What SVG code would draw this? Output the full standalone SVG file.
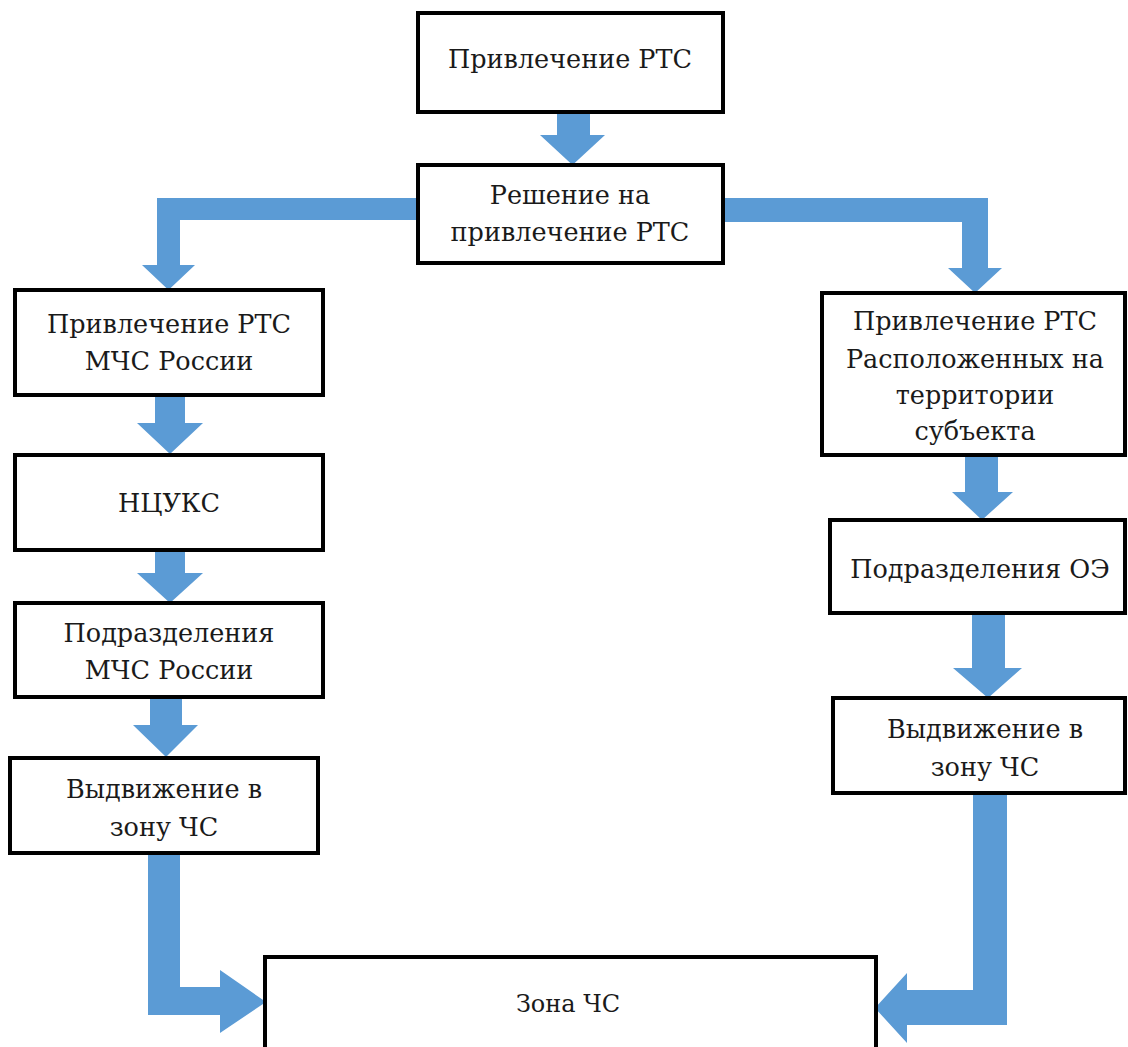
<svg xmlns="http://www.w3.org/2000/svg" width="1128" height="1047" viewBox="0 0 1128 1047">
<style>
.box{fill:#fff;stroke:#000;stroke-width:4}
text{font-family:'DejaVu Serif','Liberation Serif',serif;font-size:25.5px;fill:#1a1a1a;text-anchor:middle}
.z{font-size:24px}
.arr{fill:#5B9BD5}
</style>
<rect width="1128" height="1047" fill="#fff"/>
<g id="connectors">
<polygon class="arr" points="557,112 590,112 590,135 605,135 572.5,165 540,135 557,135"/>
<polygon class="arr" points="418,198 157,198 157,265 142,265 168.5,290 195,265 180,265 180,220 418,220"/>
<polygon class="arr" points="723,198 988,198 988,268 1002,268 975,293 948,268 962,268 962,222 723,222"/>
<polygon class="arr" points="155,395 185,395 185,423 203,423 170,454 137,423 155,423"/>
<polygon class="arr" points="155,550 185,550 185,573 203,573 170,603 137,573 155,573"/>
<polygon class="arr" points="150,697 182,697 182,725 198,725 166,757 133,725 150,725"/>
<polygon class="arr" points="148,853 180,853 180,987 220,987 220,970 266,1002 220,1033 220,1015 148,1015"/>
<polygon class="arr" points="965,455 998,455 998,492 1013,492 982,520 952,492 965,492"/>
<polygon class="arr" points="972,613 1005,613 1005,668 1022,668 988,698 953,668 972,668"/>
<polygon class="arr" points="973,793 1007,793 1007,1025 907,1025 907,1043 875,1008 907,973 907,990 973,990"/>
</g>
<g id="n1"><rect class="box" x="418" y="13" width="305" height="99"/><text x="570" y="68">Привлечение РТС</text></g>
<g id="n2"><rect class="box" x="418" y="165" width="305" height="98"/><text x="570" y="204">Решение на</text><text x="570" y="241">привлечение РТС</text></g>
<g id="n3"><rect class="box" x="15" y="290" width="308" height="105"/><text x="169" y="333">Привлечение РТС</text><text x="169" y="370">МЧС России</text></g>
<g id="n4"><rect class="box" x="15" y="455" width="308" height="95"/><text x="169" y="512">НЦУКС</text></g>
<g id="n5"><rect class="box" x="15" y="603" width="308" height="94"/><text x="169" y="642">Подразделения</text><text x="169" y="679">МЧС России</text></g>
<g id="n6"><rect class="box" x="10" y="758" width="308" height="95"/><text x="164" y="798">Выдвижение в</text><text x="164" y="836">зону ЧС</text></g>
<g id="n7"><rect class="box" x="822" y="293" width="303" height="162"/><text x="975" y="330">Привлечение РТС</text><text x="975" y="368">Расположенных на</text><text x="975" y="404">территории</text><text x="975" y="440">субъекта</text></g>
<g id="n8"><rect class="box" x="830" y="520" width="295" height="93"/><text x="980" y="578">Подразделения ОЭ</text></g>
<g id="n9"><rect class="box" x="833" y="698" width="292" height="95"/><text x="985" y="738">Выдвижение в</text><text x="985" y="776">зону ЧС</text></g>
<g id="n10"><rect class="box" x="265" y="957" width="611" height="100"/><text class="z" x="568" y="1012">Зона ЧС</text></g>
</svg>
